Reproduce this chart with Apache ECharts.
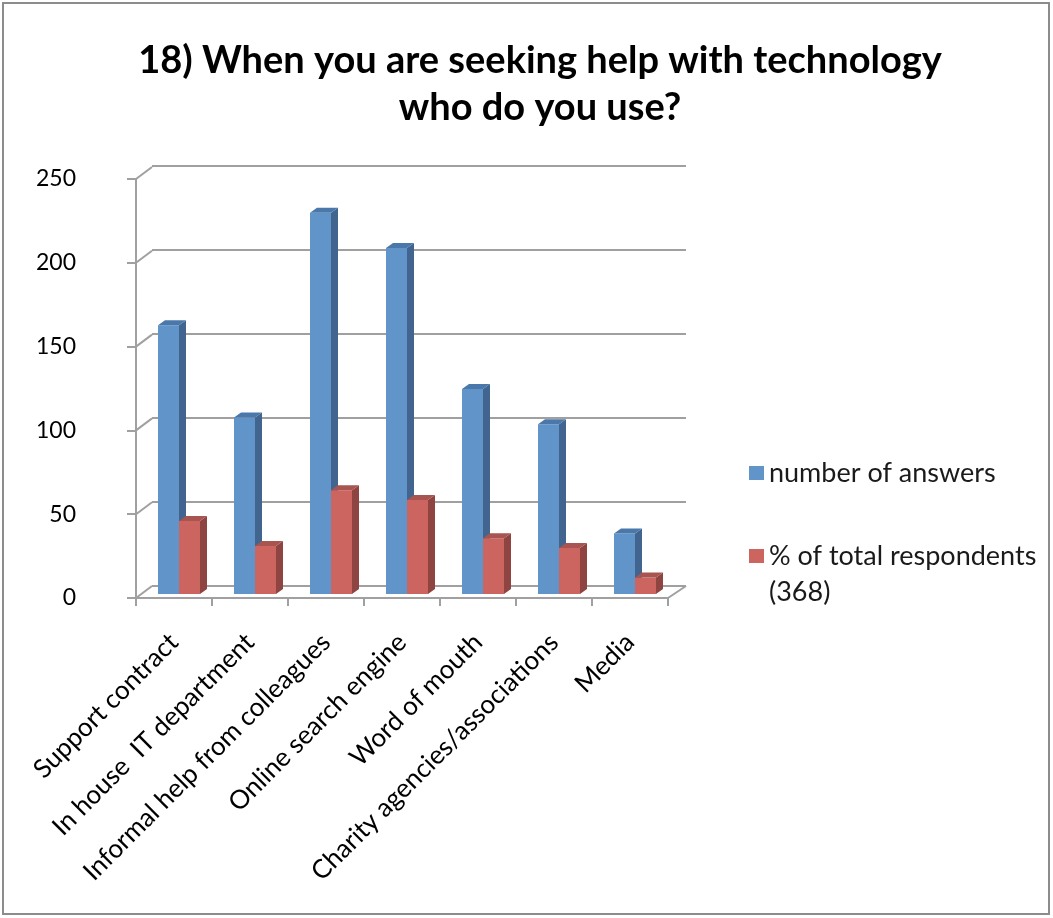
<!DOCTYPE html>
<html>
<head>
<meta charset="utf-8">
<script src="https://cdn.jsdelivr.net/npm/echarts@6/dist/echarts.min.js"></script>
<style>html,body{margin:0;padding:0;background:#fff}#c{width:1053px;height:918px}</style>
</head>
<body>
<div id="c"></div>
<script>
const categories = ['Support contract', 'In house  IT department', 'Informal help from colleagues', 'Online search engine', 'Word of mouth', 'Charity agencies/associations', 'Media'];
const answers = [160, 105, 227, 206, 122, 101, 36];
const percentOfTotal = [43.5, 28.5, 61.7, 56, 33.2, 27.4, 9.8];
const yTicks = [0, 50, 100, 150, 200, 250];
const seriesNames = ['number of answers', '% of total respondents\n(368)'];

const FONT = 'Lato, "Liberation Sans", sans-serif';
const BAR_W = 21, DX = 7, DY = 5;
const faces = [
  {front: '#6195c9', side: '#41658f', top: '#4b78aa'},
  {front: '#cc655f', side: '#8e4440', top: '#a85450'}
];

function barRender(si) {
  return function (params, api) {
    const i = api.value(0), v = api.value(1);
    const top = api.coord([i, v]);
    const base = api.coord([i, 0]);
    const x0 = si === 0 ? top[0] - BAR_W : top[0];
    const x1 = x0 + BAR_W;
    const f = faces[si];
    return {
      type: 'group',
      children: [
        {type: 'rect', shape: {x: x0, y: top[1], width: BAR_W, height: base[1] - top[1]}, style: {fill: f.front}},
        {type: 'polygon', shape: {points: [[x1, top[1]], [x1 + DX, top[1] - DY], [x1 + DX, base[1] - DY], [x1, base[1]]]}, style: {fill: f.side}},
        {type: 'polygon', shape: {points: [[x0, top[1]], [x0 + DX, top[1] - DY], [x1 + DX, top[1] - DY], [x1, top[1]]]}, style: {fill: f.top}}
      ]
    };
  };
}

const chart = echarts.init(document.getElementById('c'), null, {renderer: 'canvas'});
const gridLine = '#a0a0a0';
chart.setOption({
  backgroundColor: '#fff',
  animation: false,
  title: {
    text: '18) When you are seeking help with technology\nwho do you use?',
    left: 535, top: 32, textAlign: 'center',
    textStyle: {fontFamily: FONT, fontWeight: 'bold', fontSize: 38, lineHeight: 47, color: '#000'}
  },
  graphic: [{type: 'rect', shape: {x: 3, y: 3, width: 1046, height: 911}, style: {fill: 'none', stroke: '#8c8c8c', lineWidth: 2}, silent: true}],
  legend: [
    {data: [seriesNames[0]], orient: 'vertical', left: 744, top: 450, icon: 'rect', itemWidth: 15, itemHeight: 14,
     textStyle: {fontFamily: FONT, fontSize: 27, lineHeight: 36, color: '#1a1a1a'}},
    {data: [seriesNames[1]], orient: 'vertical', left: 744, top: 497, icon: 'rect', itemWidth: 15, itemHeight: 14,
     formatter: function (name) { return '\n' + name; },
     textStyle: {fontFamily: FONT, fontSize: 27, color: '#1a1a1a', lineHeight: 36}}
  ],
  grid: [
    {left: 136, top: 179, width: 532, height: 419},
    {left: 152, top: 166, width: 534, height: 420},
    {left: 141, top: 174, width: 532, height: 420}
  ],
  xAxis: [
    {type: 'category', gridIndex: 0, data: categories, boundaryGap: true,
     axisLine: {lineStyle: {color: gridLine, width: 2}},
     axisTick: {show: true, length: 8, lineStyle: {color: gridLine, width: 2}},
     axisLabel: {rotate: 45, interval: 0, margin: 40, fontFamily: FONT, fontSize: 26, color: '#000'}},
    {type: 'category', gridIndex: 1, data: categories, show: false},
    {type: 'category', gridIndex: 2, data: categories, show: false}
  ],
  yAxis: [
    {type: 'value', gridIndex: 0, min: 0, max: 250, interval: 50,
     axisLine: {show: true, lineStyle: {color: gridLine, width: 2}},
     axisTick: {show: true, length: 9, lineStyle: {color: gridLine, width: 2}},
     splitLine: {show: false},
     axisLabel: {margin: 60, fontFamily: FONT, fontSize: 23, color: '#000'}},
    {type: 'value', gridIndex: 1, min: 0, max: 250, interval: 50,
     axisLine: {show: false}, axisTick: {show: false}, axisLabel: {show: false},
     splitLine: {show: true, lineStyle: {color: gridLine, width: 2}}},
    {type: 'value', gridIndex: 2, min: 0, max: 250, show: false, splitLine: {show: false}}
  ],
  series: [
    {
      type: 'custom', name: 'walls', xAxisIndex: 0, yAxisIndex: 0, silent: true, z: 1,
      data: yTicks.map(v => [0, v]),
      renderItem: function (params, api) {
        const cs = params.coordSys;
        const y = api.coord([0, api.value(1)])[1];
        const children = [{type: 'line', shape: {x1: cs.x, y1: y, x2: cs.x + 16, y2: y - 12}, style: {stroke: gridLine, lineWidth: 2}}];
        if (params.dataIndex === 0) {
          children.push({type: 'line', shape: {x1: cs.x + cs.width, y1: y, x2: cs.x + cs.width + 18, y2: y - 12}, style: {stroke: gridLine, lineWidth: 2}});
        }
        return {type: 'group', children: children};
      }
    },
    {
      type: 'custom', name: seriesNames[0], xAxisIndex: 2, yAxisIndex: 2, z: 3,
      itemStyle: {color: faces[0].front},
      data: answers.map((v, i) => [i, v]),
      renderItem: barRender(0)
    },
    {
      type: 'custom', name: seriesNames[1], xAxisIndex: 2, yAxisIndex: 2, z: 4,
      itemStyle: {color: faces[1].front},
      data: percentOfTotal.map((v, i) => [i, v]),
      renderItem: barRender(1)
    }
  ]
});
</script>
</body>
</html>
